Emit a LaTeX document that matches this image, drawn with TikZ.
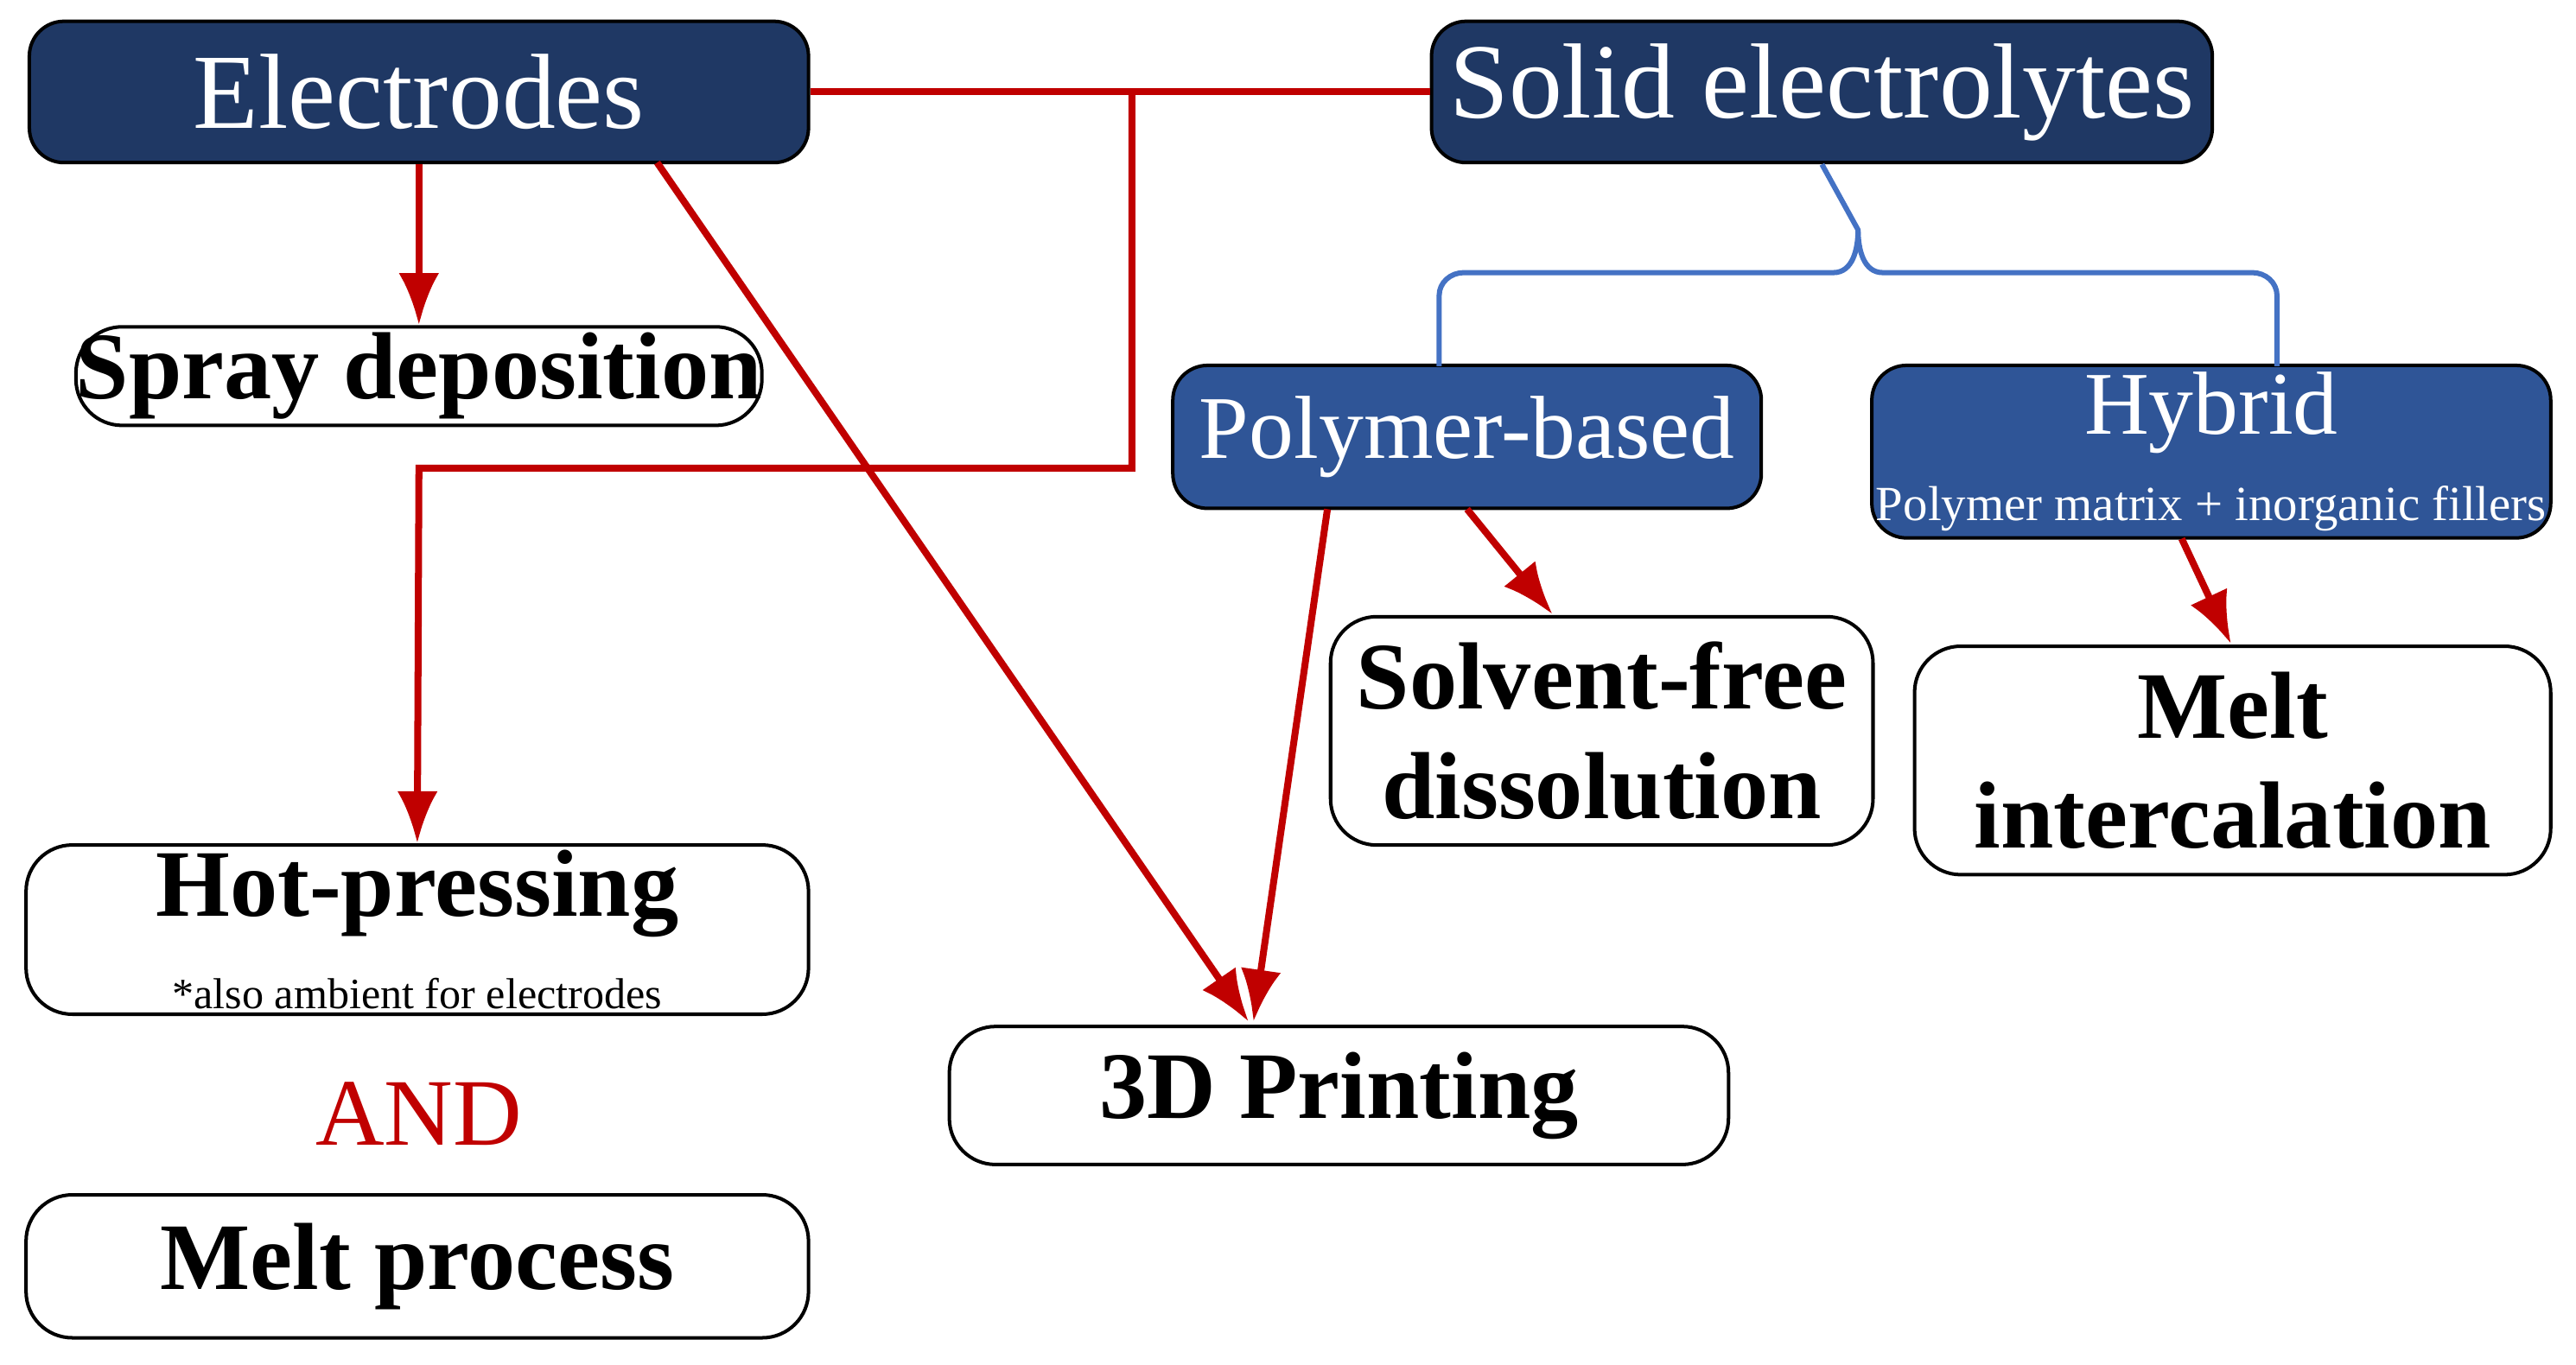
\documentclass[tikz,border=0pt]{standalone}
\usepackage{fontspec}
\setmainfont{Liberation Serif}
\usetikzlibrary{arrows.meta}
\definecolor{navy}{HTML}{1F3864}
\definecolor{midblue}{HTML}{2F5597}
\definecolor{brace}{HTML}{4472C4}
\definecolor{red}{HTML}{C00000}
\tikzset{
  head/.style={draw=black,line width=0.6pt,rounded corners=6pt,fill=navy,text=white,inner sep=0pt,font=\fontsize{18.5}{20}\selectfont},
  sub/.style={head,fill=midblue,font=\fontsize{15.5}{17}\selectfont},
  proc/.style={draw=black,line width=0.6pt,rounded corners=8pt,fill=white,inner sep=0pt,align=center,font=\bfseries\fontsize{16.5}{19}\selectfont},
  link/.style={red,line width=1.2pt},
  arr/.style={link,-{Latex[length=9pt,width=7pt]}},
}
\begin{document}
\begin{tikzpicture}[x=0.01cm,y=-0.01cm]
\useasboundingbox (0,0) rectangle (1568,831);
\node[head,minimum width=4.74cm,minimum height=0.86cm] (el) at (255,56) {Electrodes};
\node[head,minimum width=4.75cm,minimum height=0.86cm] (se) at (1109,56) {Solid electrolytes};
\node[sub,minimum width=3.58cm,minimum height=0.87cm] (pb) at (893,266) {Polymer-based};
\node[sub,minimum width=4.13cm,minimum height=1.05cm,align=center] (hy) at (1346,275)
  {Hybrid\\[-2pt]{\fontsize{8.5}{10}\selectfont Polymer matrix + inorganic fillers}};
\node[proc,minimum width=4.17cm,minimum height=0.6cm] (sp) at (255,229) {Spray deposition};
\node[proc,minimum width=3.3cm,minimum height=1.39cm] (sf) at (975,445) {Solvent-free\\dissolution};
\node[proc,minimum width=3.87cm,minimum height=1.39cm] (mi) at (1359,463) {Melt\\intercalation};
\node[proc,minimum width=4.76cm,minimum height=1.03cm] (hp) at (254,566)
  {Hot-pressing\\[-3pt]{\normalfont\fontsize{7.5}{9}\selectfont *also ambient for electrodes}};
\node[text=red,font=\fontsize{16.5}{19}\selectfont] (and) at (255,678) {AND};
\node[proc,minimum width=4.76cm,minimum height=0.87cm] (mp) at (254,771) {Melt process};
\node[proc,minimum width=4.74cm,minimum height=0.84cm] (td) at (815,667) {3D Printing};
\coordinate (j) at (689,56);
\draw[link] (el.east) -- (se.west);
\draw[arr] (j) -- (689,285) -- (255,285) -- (hp.north);
\draw[arr] (el.south) -- (sp.north);
\draw[arr] (400,99) -- (760,622);
\draw[arr] (808,310) -- (763,622);
\draw[arr] (893,310) -- (945,374);
\draw[arr] (1328,328) -- (1358,392);
\draw[brace,line width=0.9pt] (876,223) -- (876,180) to[out=90,in=180] (891,166) -- (1116,166)
  to[out=0,in=-90] (1131,140) -- (se.south);
\draw[brace,line width=0.9pt] (1386,223) -- (1386,180) to[out=90,in=0] (1371,166) -- (1146,166)
  to[out=180,in=-90] (1131,140);
\end{tikzpicture}
\end{document}
